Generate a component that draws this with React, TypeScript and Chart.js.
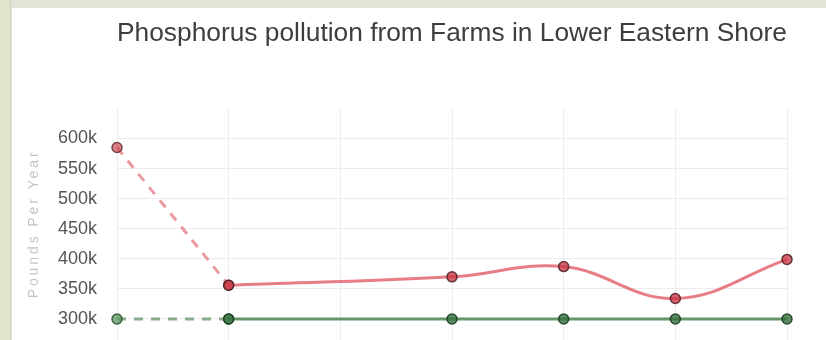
import { useEffect, useRef } from "react";
import { Chart, registerables } from "chart.js";

Chart.register(...registerables);

// Reporting years along the x axis (no estimate was published for 2011)
const years = ["2009", "2010", "2011", "2012", "2013", "2014", "2015"];

// Phosphorus load, pounds per year
const loadBaseline = [585000, 356000, null, null, null, null, null];
const loadProgress = [null, 356000, null, 370000, 387000, 334000, 399000];

// Target load, pounds per year
const targetBaseline = [300000, 300000, null, null, null, null, null];
const targetProgress = [null, 300000, null, 300000, 300000, 300000, 300000];

// Labelled ticks on the value axis
const yTicks = [300000, 350000, 400000, 450000, 500000, 550000, 600000];
const yMin = 265000;
const yMax = 651000;

const chartTitle = "Phosphorus pollution from Farms in Lower Eastern Shore";
const yTitle = "Pounds Per Year";

const FONT = "'Liberation Sans', Arial, Helvetica, sans-serif";

// Rotated, letter-spaced caption for the value axis
const yTitlePlugin = {
  id: "yTitleSpaced",
  afterDraw(chart: any) {
    const { ctx, chartArea } = chart;
    ctx.save();
    ctx.translate(22, (chartArea.top + chartArea.bottom) / 2);
    ctx.rotate(-Math.PI / 2);
    (ctx as any).letterSpacing = "2.9px";
    ctx.font = `14px ${FONT}`;
    ctx.fillStyle = "#c4c4c4";
    ctx.textAlign = "center";
    ctx.textBaseline = "middle";
    ctx.fillText(yTitle, 0, 0);
    ctx.restore();
  },
};

export default function App() {
  const canvasRef = useRef<HTMLCanvasElement>(null);

  useEffect(() => {
    const canvas = canvasRef.current;
    if (!canvas) return;

    const pointStyle = {
      pointRadius: 5,
      pointHoverRadius: 5,
      pointBorderWidth: 1.5,
    };

    const chart = new Chart(canvas, {
      type: "line",
      data: {
        labels: years,
        datasets: [
          {
            label: "Load",
            data: loadProgress,
            borderColor: "rgba(226, 92, 104, 0.8)",
            borderWidth: 3,
            tension: 0.4,
            spanGaps: true,
            pointBackgroundColor: "rgba(200, 52, 66, 0.75)",
            pointBorderColor: "rgba(80, 30, 34, 0.85)",
            clip: false,
            ...pointStyle,
          },
          {
            label: "Load baseline",
            data: loadBaseline,
            borderColor: "rgba(226, 110, 120, 0.7)",
            borderWidth: 3,
            borderDash: [9, 8],
            tension: 0,
            pointBackgroundColor: "rgba(205, 75, 85, 0.7)",
            pointBorderColor: "rgba(90, 40, 44, 0.8)",
            clip: false,
            ...pointStyle,
          },
          {
            label: "Target",
            data: targetProgress,
            borderColor: "rgba(78, 132, 80, 0.85)",
            borderWidth: 3,
            tension: 0.4,
            spanGaps: true,
            pointBackgroundColor: "rgba(52, 112, 62, 0.8)",
            pointBorderColor: "rgba(30, 62, 32, 0.9)",
            clip: false,
            ...pointStyle,
          },
          {
            label: "Target baseline",
            data: targetBaseline,
            borderColor: "rgba(100, 145, 100, 0.75)",
            borderWidth: 3,
            borderDash: [9, 8],
            tension: 0,
            pointBackgroundColor: "rgba(90, 150, 95, 0.75)",
            pointBorderColor: "rgba(40, 75, 42, 0.85)",
            clip: false,
            ...pointStyle,
          },
        ],
      },
      options: {
        responsive: false,
        animation: false,
        events: [],
        layout: { padding: { right: 39 }, autoPadding: false },
        plugins: {
          legend: { display: false },
          tooltip: { enabled: false },
          title: {
            display: true,
            text: chartTitle,
            fullSize: false,
            color: "#3e3e3e",
            font: { family: FONT, size: 26.5, weight: "normal" },
            padding: { top: 10, bottom: 58 },
          },
        },
        scales: {
          x: {
            grid: { color: "#ececec", drawTicks: false },
            border: { display: false },
            ticks: { display: false },
            afterFit: (scale: any) => {
              scale.height = 0;
            },
          },
          y: {
            min: yMin,
            max: yMax,
            afterBuildTicks: (scale: any) => {
              scale.ticks = yTicks.map((value) => ({ value }));
            },
            afterFit: (scale: any) => {
              scale.width = 105;
              scale.paddingTop = 0;
              scale.paddingBottom = 0;
            },
            grid: { color: "#ececec", drawTicks: false },
            border: { display: false },
            ticks: {
              padding: 20,
              color: "#555555",
              font: { family: FONT, size: 18 },
              callback: (value: any) => `${Number(value) / 1000}k`,
            },
          },
        },
      },
      plugins: [yTitlePlugin],
    });

    return () => chart.destroy();
  }, []);

  return (
    <div
      style={{
        position: "fixed",
        left: 0,
        top: 0,
        width: 826,
        height: 340,
        background: "#e3e4d8",
        overflow: "hidden",
      }}
    >
      <div
        style={{
          position: "absolute",
          left: 0,
          top: 0,
          width: 10,
          height: 340,
          background: "#dfe4cb",
          borderRight: "1px solid #cfcfc6",
        }}
      />
      <div
        style={{
          position: "absolute",
          left: 12,
          top: 8,
          width: 814,
          height: 332,
          background: "#ffffff",
        }}
      >
        <canvas
          ref={canvasRef}
          width={814}
          height={332}
          style={{ display: "block", width: 814, height: 332 }}
        />
      </div>
    </div>
  );
}
